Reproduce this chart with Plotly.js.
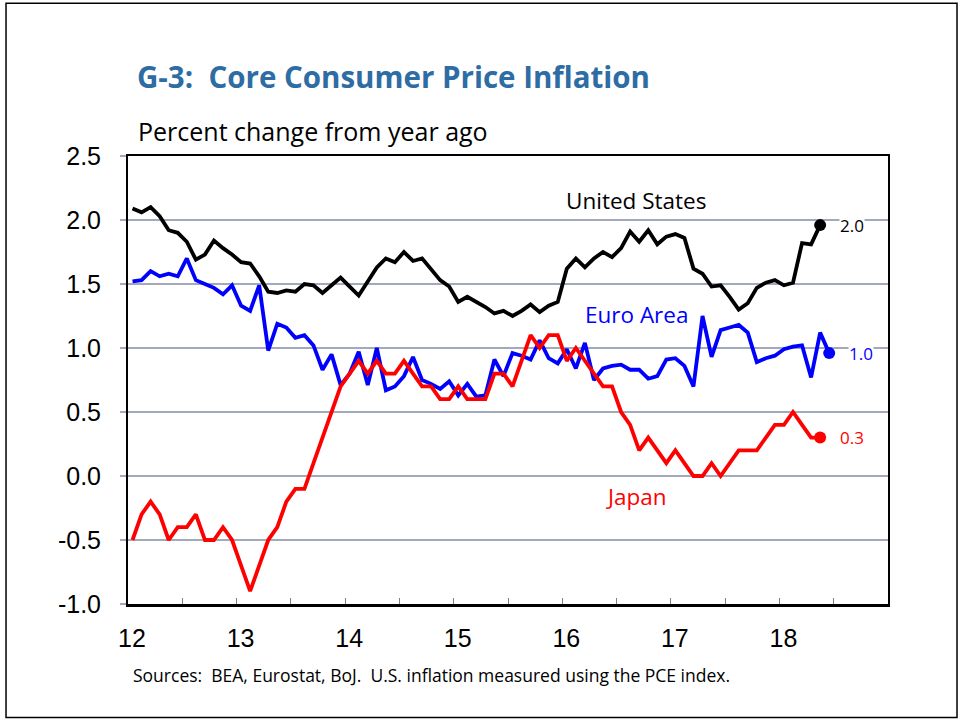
<!DOCTYPE html>
<html>
<head>
<meta charset="utf-8">
<script src="https://cdn.plot.ly/plotly-3.0.1.min.js"></script>
<style>
html,body{margin:0;padding:0;background:#fff;}
#chart{width:960px;height:721px;}
</style>
</head>
<body>
<div id="chart"></div>
<script>
// Monthly observations starting January 2012
const startYear = 12;
const usCore = [2.09,2.06,2.10,2.03,1.92,1.90,1.83,1.69,1.73,1.84,
  1.78,1.73,1.67,1.66,1.56,1.44,1.43,1.45,1.44,1.50,
  1.49,1.43,1.49,1.55,1.48,1.41,1.52,1.63,1.70,1.67,
  1.75,1.68,1.70,1.61,1.53,1.48,1.36,1.40,1.36,1.32,
  1.27,1.29,1.25,1.29,1.34,1.28,1.33,1.36,1.62,1.70,
  1.63,1.70,1.75,1.71,1.78,1.91,1.83,1.92,1.81,1.87,
  1.89,1.86,1.62,1.58,1.48,1.49,1.40,1.30,1.35,1.47,
  1.51,1.53,1.49,1.51,1.82,1.81,1.96];
const euroCore = [1.52,1.53,1.60,1.56,1.58,1.56,1.70,1.53,1.50,1.47,
  1.42,1.49,1.33,1.29,1.49,0.98,1.19,1.16,1.08,1.10,
  1.02,0.83,0.95,0.71,0.80,0.97,0.71,1.00,0.67,0.70,
  0.78,0.93,0.75,0.72,0.68,0.74,0.63,0.72,0.62,0.63,
  0.91,0.78,0.96,0.94,0.91,1.06,0.92,0.88,0.99,0.84,
  1.04,0.75,0.84,0.86,0.87,0.83,0.83,0.76,0.78,0.91,
  0.92,0.86,0.70,1.25,0.93,1.14,1.16,1.18,1.12,0.89,
  0.92,0.94,0.99,1.01,1.02,0.77,1.12,0.96];
const japanCore = [-0.5,-0.3,-0.2,-0.3,-0.5,-0.4,-0.4,-0.3,-0.5,-0.5,
  -0.4,-0.5,-0.7,-0.9,-0.7,-0.5,-0.4,-0.2,-0.1,-0.1,
  0.1,0.3,0.5,0.7,0.8,0.9,0.8,0.9,0.8,0.8,
  0.9,0.8,0.7,0.7,0.6,0.6,0.7,0.6,0.6,0.6,
  0.8,0.8,0.7,0.9,1.1,1.0,1.1,1.1,0.9,1.0,
  0.9,0.8,0.7,0.7,0.5,0.4,0.2,0.3,0.2,0.1,
  0.2,0.1,0.0,0.0,0.1,0.0,0.1,0.2,0.2,0.2,
  0.3,0.4,0.4,0.5,0.4,0.3,0.3];
const seriesNames = ["United States","Euro Area","Japan"];
const yTicks = [-1.0,-0.5,0.0,0.5,1.0,1.5,2.0,2.5];
const xTickVals = [12,12.5,13,13.5,14,14.5,15,15.5,16,16.5,17,17.5,18,18.5];
const xTickText = ["12","","13","","14","","15","","16","","17","","18",""];

const colors = ["#000000","#0000FF","#FF0000"];
const allSeries = [usCore, euroCore, japanCore];
const monthX = v => v.map((_, i) => startYear + (i + 0.5) / 12);

const traces = [];
allSeries.forEach((s, k) => {
  const xs = monthX(s);
  traces.push({x: xs, y: s, type: 'scatter', mode: 'lines',
    line: {color: colors[k], width: 3.8}, hoverinfo: 'skip'});
  traces.push({x: [xs[xs.length-1]], y: [s[s.length-1]], type: 'scatter', mode: 'markers',
    marker: {color: colors[k], size: 12}, hoverinfo: 'skip'});
});

const labelFont = "'Open Sans', 'Noto Sans', sans-serif";
const ann = [];
// series name labels
const namePos = [[16.68, 2.151], [16.68, 1.26], [16.68, -0.162]];
seriesNames.forEach((n, k) => {
  ann.push({x: namePos[k][0], y: namePos[k][1], xref: 'x', yref: 'y', text: n, showarrow: false,
    font: {family: labelFont, size: 22.5, color: colors[k]}, xanchor: 'center', yanchor: 'middle'});
});
// end value labels
allSeries.forEach((s, k) => {
  const xs = monthX(s);
  ann.push({x: xs[xs.length-1], y: s[s.length-1], xref: 'x', yref: 'y',
    text: s[s.length-1].toFixed(1), showarrow: false, xanchor: 'left', yanchor: 'middle',
    xshift: 19, bgcolor: '#ffffff', borderpad: 0,
    font: {family: labelFont, size: 17, color: colors[k]}});
});
// title, subtitle, source
ann.push({xref: 'paper', yref: 'paper', x: 0.0092, y: 1.1784, xanchor: 'left', yanchor: 'middle',
  text: '<b>G-3:  Core Consumer Price Inflation</b>', showarrow: false,
  font: {family: labelFont, size: 29.5, color: '#2E6CA4'}});
ann.push({xref: 'paper', yref: 'paper', x: 0.0105, y: 1.0557, xanchor: 'left', yanchor: 'middle',
  text: 'Percent change from year ago', showarrow: false,
  font: {family: labelFont, size: 25, color: '#000'}});
ann.push({xref: 'paper', yref: 'paper', x: 0.0039, y: -0.1594, xanchor: 'left', yanchor: 'middle',
  text: 'Sources:  BEA, Eurostat, BoJ.  U.S. inflation measured using the PCE index.', showarrow: false,
  font: {family: labelFont, size: 17.5, color: '#000'}});

const layout = {
  width: 960, height: 721,
  margin: {l: 128, r: 72, t: 156, b: 116.5},
  paper_bgcolor: '#fff', plot_bgcolor: '#fff',
  showlegend: false,
  xaxis: {range: [12, 19], tickmode: 'array', tickvals: xTickVals, ticktext: xTickText,
    ticks: 'inside', ticklen: 6, tickwidth: 1, tickcolor: '#808080',
    showgrid: false, zeroline: false, showline: true, linecolor: '#000', linewidth: 2.5, mirror: true,
    tickfont: {family: "'Liberation Sans', Arial, sans-serif", size: 25, color: '#000'},
    ticklabelstandoff: 10, ticklabelshift: 4, fixedrange: true},
  yaxis: {range: [-1, 2.5], tickmode: 'array', tickvals: yTicks, ticktext: yTicks.map(v => v.toFixed(1)),
    ticks: 'outside', ticklen: 6, tickwidth: 1.5, tickcolor: '#A3A9BD',
    showgrid: true, gridcolor: '#A3A9BD', gridwidth: 1.5, zeroline: false,
    showline: true, linecolor: '#000', linewidth: 2, mirror: true,
    tickfont: {family: "'Liberation Sans', Arial, sans-serif", size: 25, color: '#000'},
    ticklabelstandoff: 14, fixedrange: true},
  annotations: ann,
  shapes: [{type: 'rect', xref: 'paper', yref: 'paper', x0: -0.1605, x1: 1.0908, y0: -0.2531, y1: 1.3411,
    line: {color: '#000', width: 1.5}, fillcolor: 'rgba(0,0,0,0)', layer: 'below'}]
};

Plotly.newPlot('chart', traces, layout, {staticPlot: true, displayModeBar: false});
</script>
</body>
</html>
